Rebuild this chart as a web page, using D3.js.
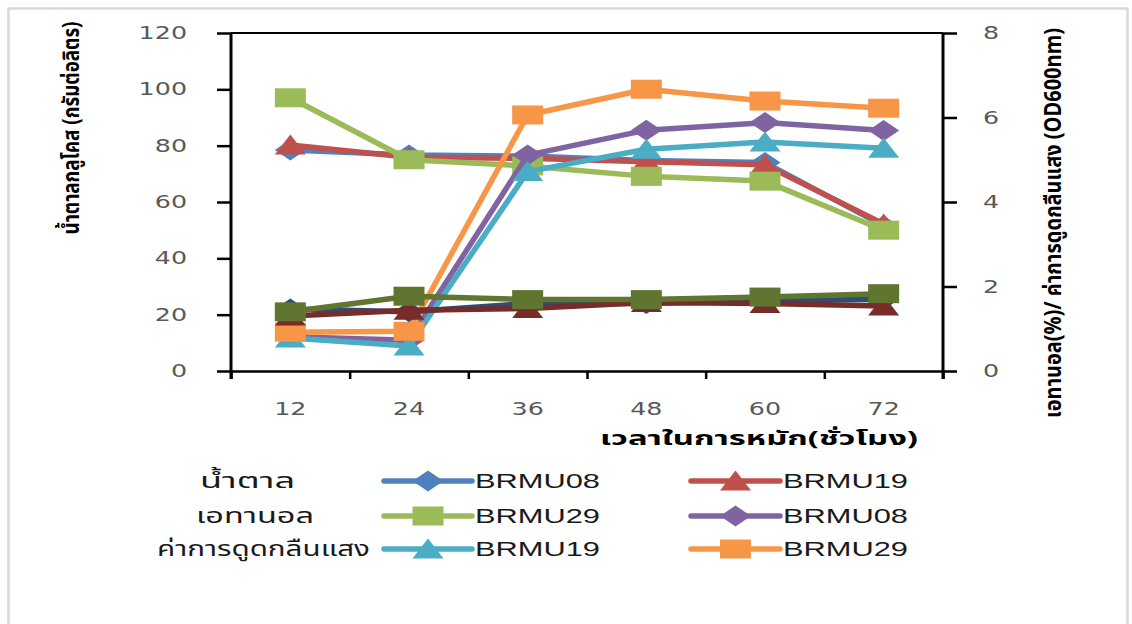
<!DOCTYPE html>
<html>
<head>
<meta charset="utf-8">
<script src="https://cdn.jsdelivr.net/npm/d3@7"></script>
<style>
  html, body { margin: 0; padding: 0; background: #fff; }
  svg { display: block; }
</style>
</head>
<body>
<svg id="chart" width="1132" height="624"></svg>
<script>
// Fermentation time (hours)
const hours = [12, 24, 36, 48, 60, 72];

// Glucose (g/L), left axis
const sugarBRMU08 = [78.5, 76.7, 76.3, 74.7, 74.0, 51.5];
const sugarBRMU19 = [80.2, 75.9, 75.5, 74.3, 73.2, 52.2];
const sugarBRMU29 = [97.0, 75.0, 72.8, 69.1, 67.4, 50.0];

// Absorbance OD600, right axis
const odBRMU08 = [0.81, 0.73, 5.11, 5.70, 5.88, 5.69];
const odBRMU19 = [0.78, 0.59, 4.72, 5.25, 5.42, 5.27];
const odBRMU29 = [0.92, 0.94, 6.06, 6.67, 6.39, 6.22];

// Ethanol (%), right axis
const ethBRMU08 = [1.47, 1.40, 1.60, 1.60, 1.66, 1.70];
const ethBRMU19 = [1.30, 1.44, 1.48, 1.62, 1.60, 1.54];
const ethBRMU29 = [1.40, 1.77, 1.69, 1.69, 1.75, 1.83];

const leftTicks = [0, 20, 40, 60, 80, 100, 120];
const rightTicks = [0, 2, 4, 6, 8];

const leftTitle = "น้ำตาลกลูโคส (กรัมต่อลิตร)";
const rightTitle = "เอทานอล(%)/ ค่าการดูดกลืนแสง (OD600nm)";
const xTitle = "เวลาในการหมัก(ชั่วโมง)";
const groupLabels = ["น้ำตาล", "เอทานอล", "ค่าการดูดกลืนแสง"];

// series in drawing order (later ones on top)
const series = [
  { name: "BRMU08", values: sugarBRMU08, axis: "L", color: "#4F81BD", shape: "diamond", legend: true },
  { name: "BRMU19", values: sugarBRMU19, axis: "L", color: "#C0504D", shape: "triangle", legend: true },
  { name: "BRMU29", values: sugarBRMU29, axis: "L", color: "#9BBB59", shape: "square", legend: true },
  { name: "BRMU08", values: odBRMU08, axis: "R", color: "#8064A2", shape: "diamond", legend: true },
  { name: "BRMU19", values: odBRMU19, axis: "R", color: "#4BACC6", shape: "triangle", legend: true },
  { name: "BRMU29", values: odBRMU29, axis: "R", color: "#F79646", shape: "square", legend: true },
  { name: "BRMU08", values: ethBRMU08, axis: "R", color: "#2C4D75", shape: "diamond", legend: false },
  { name: "BRMU19", values: ethBRMU19, axis: "R", color: "#772C2A", shape: "triangle", legend: false },
  { name: "BRMU29", values: ethBRMU29, axis: "R", color: "#5F7530", shape: "square", legend: false }
];

const SX = 1.45;             // horizontal glyph stretch
const LATIN = "'DejaVu Sans', Verdana, sans-serif";
const THAI = "'Noto Sans Thai', 'Noto Sans Thai UI', Tahoma, 'Noto Sans', 'DejaVu Sans', sans-serif";

const svg = d3.select("#chart");

// outer frame
svg.append("rect")
  .attr("x", 8.5).attr("y", 8.5)
  .attr("width", 1119).attr("height", 640)
  .attr("fill", "#fff").attr("stroke", "#d9d9d9").attr("stroke-width", 2.5);

const plot = { left: 231, right: 943, top: 33, bottom: 371 };

const x = d3.scaleBand().domain(hours).range([plot.left, plot.right]);
const xc = d => x(d) + x.bandwidth() / 2;
const xEdge = d3.scaleLinear().domain([0, hours.length]).range([plot.left, plot.right]);
const yL = d3.scaleLinear().domain([0, 120]).range([plot.bottom, plot.top]);
const yR = d3.scaleLinear().domain([0, 8]).range([plot.bottom, plot.top]);

const axisColor = "#000";
const tickColor = "#595959";

// top border of plot area
svg.append("line")
  .attr("x1", plot.left).attr("x2", plot.right)
  .attr("y1", plot.top).attr("y2", plot.top)
  .attr("stroke", axisColor).attr("stroke-width", 2);

// left axis
const gL = svg.append("g").attr("transform", `translate(${plot.left},0)`)
  .call(d3.axisLeft(yL).tickValues(leftTicks).tickSize(14).tickSizeOuter(0));
gL.select(".domain").remove();
gL.selectAll(".tick line").attr("stroke", axisColor).attr("stroke-width", 2.5);
gL.selectAll(".tick text")
  .attr("x", -44 / SX).attr("transform", `scale(${SX},1)`)
  .attr("fill", tickColor).style("font", `17.5px ${LATIN}`);
gL.append("line").attr("x1", 0).attr("x2", 0)
  .attr("y1", plot.top).attr("y2", plot.bottom + 8)
  .attr("stroke", axisColor).attr("stroke-width", 3);

// right axis
const gR = svg.append("g").attr("transform", `translate(${plot.right},0)`)
  .call(d3.axisRight(yR).tickValues(rightTicks).tickSize(14).tickSizeOuter(0));
gR.select(".domain").remove();
gR.selectAll(".tick line").attr("stroke", axisColor).attr("stroke-width", 2.5);
gR.selectAll(".tick text")
  .attr("x", 40 / SX).attr("transform", `scale(${SX},1)`)
  .attr("fill", tickColor).style("font", `17.5px ${LATIN}`);
gR.append("line").attr("x1", 0).attr("x2", 0)
  .attr("y1", plot.top).attr("y2", plot.bottom + 8)
  .attr("stroke", axisColor).attr("stroke-width", 3);

// bottom axis: category labels
const gX = svg.append("g").attr("transform", `translate(0,${plot.bottom})`)
  .call(d3.axisBottom(x).tickSize(0).tickSizeOuter(0));
gX.select(".domain").remove();
gX.selectAll(".tick text")
  .attr("y", 32).attr("x", 0)
  .attr("transform", `scale(${SX},1)`)
  .attr("fill", tickColor).style("font", `17.5px ${LATIN}`);
gX.selectAll(".tick").each(function () {
  const t = d3.select(this);
  const tr = t.attr("transform").match(/translate\(([-\d.]+),/);
  const px = +tr[1];
  t.attr("transform", `translate(0,0)`);
  t.select("text").attr("x", px / SX);
});

// bottom axis: category boundary ticks
const gXE = svg.append("g").attr("transform", `translate(0,${plot.bottom})`)
  .call(d3.axisBottom(xEdge).tickValues(d3.range(hours.length + 1)).tickSize(8).tickSizeOuter(0).tickFormat(""));
gXE.select(".domain").attr("stroke", axisColor).attr("stroke-width", 2.5);
gXE.selectAll(".tick line").attr("stroke", axisColor).attr("stroke-width", 2.5);

// marker paths
function markerPath(shape) {
  const w = 31, h = 19;
  if (shape === "diamond") return `M0,${-h / 2 - 1}L${w / 2},0L0,${h / 2 + 1}L${-w / 2},0Z`;
  if (shape === "triangle") return `M0,${-h / 2 - 1}L${w / 2},${h / 2}L${-w / 2},${h / 2}Z`;
  return `M${-w / 2},${-h / 2}H${w / 2}V${h / 2}H${-w / 2}Z`;
}

// series lines + markers
const plotG = svg.append("g");
series.forEach(s => {
  const y = s.axis === "L" ? yL : yR;
  const pts = hours.map((h, i) => [xc(h), y(s.values[i])]);
  const g = plotG.append("g");
  g.append("path")
    .attr("d", d3.line()(pts))
    .attr("fill", "none").attr("stroke", s.color)
    .attr("stroke-width", 5.5)
    .attr("stroke-linejoin", "round").attr("stroke-linecap", "round");
  g.selectAll("path.m").data(pts).join("path")
    .attr("class", "m")
    .attr("transform", d => `translate(${d[0]},${d[1]})`)
    .attr("d", markerPath(s.shape))
    .attr("fill", s.color);
});

// axis titles
svg.append("text")
  .attr("transform", `translate(71,128) scale(${SX},1) rotate(-90)`)
  .attr("text-anchor", "middle").attr("dy", "0.35em")
  .attr("textLength", 213).attr("lengthAdjust", "spacingAndGlyphs")
  .style("font", `bold 16px ${THAI}`).attr("fill", "#000")
  .text(leftTitle);

svg.append("text")
  .attr("transform", `translate(1053,223) scale(${SX},1) rotate(-90)`)
  .attr("text-anchor", "middle").attr("dy", "0.35em")
  .attr("textLength", 390).attr("lengthAdjust", "spacingAndGlyphs")
  .style("font", `bold 16px ${THAI}`).attr("fill", "#000")
  .text(rightTitle);

svg.append("text")
  .attr("x", 600).attr("y", 445)
  .attr("textLength", 318).attr("lengthAdjust", "spacingAndGlyphs")
  .style("font", `bold 19px ${THAI}`).attr("fill", "#000")
  .text(xTitle);

// legend
const legendRows = [481, 516, 549];
const legendCols = [{ x1: 384, x2: 472, tx: 475 }, { x1: 691, x2: 780, tx: 783 }];
const labelSpans = [[200, 295], [196, 314], [157, 370]];

groupLabels.forEach((t, i) => {
  svg.append("text")
    .attr("x", labelSpans[i][0]).attr("y", legendRows[i]).attr("dy", "0.35em")
    .attr("textLength", labelSpans[i][1] - labelSpans[i][0]).attr("lengthAdjust", "spacingAndGlyphs")
    .style("font", `21px ${THAI}`).attr("fill", "#1a1a1a")
    .text(t);
});

series.filter(s => s.legend).forEach((s, i) => {
  const row = Math.floor(i / 2), col = legendCols[i % 2];
  const cy = legendRows[row];
  const g = svg.append("g");
  g.append("line")
    .attr("x1", col.x1).attr("x2", col.x2).attr("y1", cy).attr("y2", cy)
    .attr("stroke", s.color).attr("stroke-width", 5.5).attr("stroke-linecap", "round");
  g.append("path")
    .attr("transform", `translate(${(col.x1 + col.x2) / 2},${cy})`)
    .attr("d", markerPath(s.shape)).attr("fill", s.color);
  g.append("text")
    .attr("x", col.tx).attr("y", cy).attr("dy", "0.35em")
    .attr("textLength", 125).attr("lengthAdjust", "spacingAndGlyphs")
    .style("font", `21px 'Liberation Sans', Arial, sans-serif`).attr("fill", "#1a1a1a")
    .text(s.name);
});
</script>
</body>
</html>
